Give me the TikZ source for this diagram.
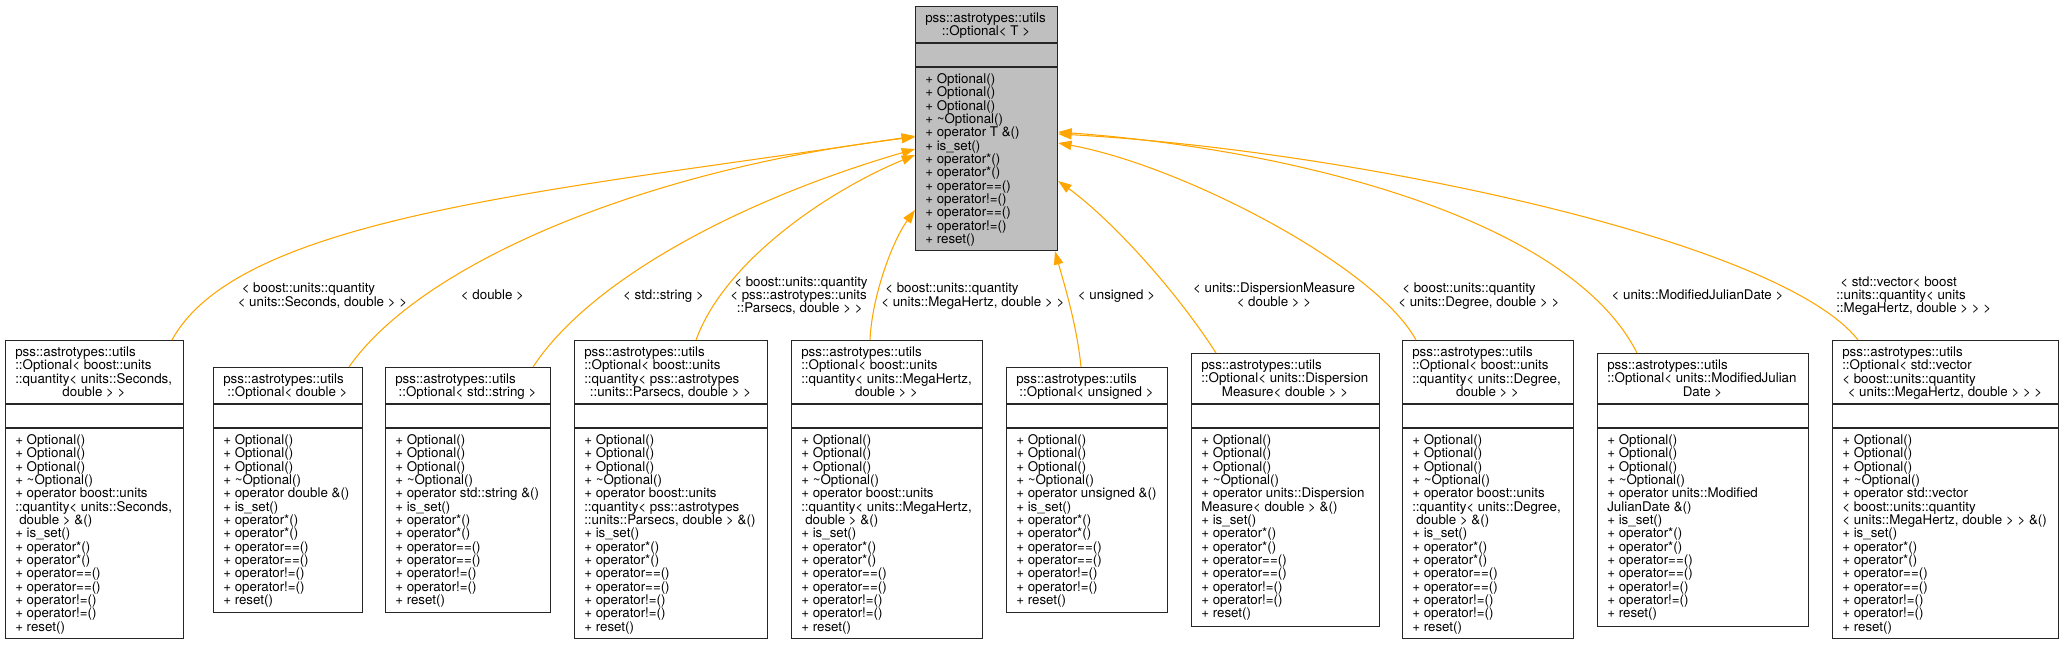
\documentclass[tikz,border=0pt]{standalone}
\usepackage{fontspec}
\setmainfont{TeX Gyre Heros}
\usetikzlibrary{arrows.meta}
\definecolor{inhcolor}{HTML}{FFA500}
\definecolor{basegray}{HTML}{BFBFBF}
\tikzset{every node/.style={inner sep=0pt,font={\fontsize{10}{10}\selectfont}},
  cls/.style={draw=black!85,line width=0.9pt,fill=white,anchor=north west},
  sep/.style={draw=black!85,line width=0.9pt},
  txt/.style={align=left,anchor=base west},
  ctr/.style={anchor=base},
  lbl/.style={align=left,anchor=base west},
  inh/.style={draw=inhcolor,line width=0.8pt,-{Triangle[length=10pt,width=7pt]}}}

\begin{document}
\begin{tikzpicture}[x=0.75pt,y=-0.75pt]
\useasboundingbox (0,0) rectangle (2063,645);

% base template (multi-line texts sit on their last baseline)
\node[cls,fill=basegray,minimum width=106.5pt,minimum height=183pt] (opt) at (915,6) {};
\draw[sep] (opt.west |- 0,43) -- (opt.east |- 0,43);
\draw[sep] (opt.west |- 0,67) -- (opt.east |- 0,67);
\node[txt] (opt-t) at (925,22.5) {pss::astrotypes::utils};
\node[ctr] (opt-n) at (986,35.8) {::Optional< T >};
\node[txt] (opt-m) at (925,243.5) {+ Optional()\\+ Optional()\\+ Optional()\\+ \textasciitilde Optional()\\+ operator T \&()\\+ is\_set()\\+ operator*()\\+ operator*()\\+ operator==()\\+ operator!=()\\+ operator==()\\+ operator!=()\\+ reset()};

% Seconds
\node[cls,minimum width=133.5pt,minimum height=223.5pt] (secs) at (5,340) {};
\draw[sep] (secs.west |- 0,404) -- (secs.east |- 0,404);
\draw[sep] (secs.west |- 0,428) -- (secs.east |- 0,428);
\node[txt] (secs-t) at (15,383.2) {pss::astrotypes::utils\\::Optional< boost::units\\::quantity< units::Seconds,};
\node[ctr] (secs-n) at (94,396.5) {double > >};
\node[txt] (secs-m) at (15,631.2) {+ Optional()\\+ Optional()\\+ Optional()\\+ \textasciitilde Optional()\\+ operator boost::units\\::quantity< units::Seconds,\\\hspace*{3pt}double > \&()\\+ is\_set()\\+ operator*()\\+ operator*()\\+ operator==()\\+ operator==()\\+ operator!=()\\+ operator!=()\\+ reset()};

% double
\node[cls,minimum width=111.75pt,minimum height=183.75pt] (dbl) at (213,367) {};
\draw[sep] (dbl.west |- 0,404) -- (dbl.east |- 0,404);
\draw[sep] (dbl.west |- 0,428) -- (dbl.east |- 0,428);
\node[txt] (dbl-t) at (223,383.5) {pss::astrotypes::utils};
\node[ctr] (dbl-n) at (287.5,396.8) {::Optional< double >};
\node[txt] (dbl-m) at (223,604.5) {+ Optional()\\+ Optional()\\+ Optional()\\+ \textasciitilde Optional()\\+ operator double \&()\\+ is\_set()\\+ operator*()\\+ operator*()\\+ operator==()\\+ operator==()\\+ operator!=()\\+ operator!=()\\+ reset()};

% std::string
\node[cls,minimum width=123.75pt,minimum height=183.75pt] (str) at (385,367) {};
\draw[sep] (str.west |- 0,404) -- (str.east |- 0,404);
\draw[sep] (str.west |- 0,428) -- (str.east |- 0,428);
\node[txt] (str-t) at (395,383.5) {pss::astrotypes::utils};
\node[ctr] (str-n) at (467.5,396.8) {::Optional< std::string >};
\node[txt] (str-m) at (395,604.5) {+ Optional()\\+ Optional()\\+ Optional()\\+ \textasciitilde Optional()\\+ operator std::string \&()\\+ is\_set()\\+ operator*()\\+ operator*()\\+ operator==()\\+ operator==()\\+ operator!=()\\+ operator!=()\\+ reset()};

% Parsecs
\node[cls,minimum width=144.75pt,minimum height=223.5pt] (pc) at (574,340) {};
\draw[sep] (pc.west |- 0,404) -- (pc.east |- 0,404);
\draw[sep] (pc.west |- 0,428) -- (pc.east |- 0,428);
\node[txt] (pc-t) at (584,383.2) {pss::astrotypes::utils\\::Optional< boost::units\\::quantity< pss::astrotypes};
\node[ctr] (pc-n) at (670.5,396.5) {::units::Parsecs, double > >};
\node[txt] (pc-m) at (584,631.2) {+ Optional()\\+ Optional()\\+ Optional()\\+ \textasciitilde Optional()\\+ operator boost::units\\::quantity< pss::astrotypes\\::units::Parsecs, double > \&()\\+ is\_set()\\+ operator*()\\+ operator*()\\+ operator==()\\+ operator==()\\+ operator!=()\\+ operator!=()\\+ reset()};

% MegaHertz
\node[cls,minimum width=143.25pt,minimum height=223.5pt] (mhz) at (791,340) {};
\draw[sep] (mhz.west |- 0,404) -- (mhz.east |- 0,404);
\draw[sep] (mhz.west |- 0,428) -- (mhz.east |- 0,428);
\node[txt] (mhz-t) at (801,383.2) {pss::astrotypes::utils\\::Optional< boost::units\\::quantity< units::MegaHertz,};
\node[ctr] (mhz-n) at (886.5,396.5) {double > >};
\node[txt] (mhz-m) at (801,631.2) {+ Optional()\\+ Optional()\\+ Optional()\\+ \textasciitilde Optional()\\+ operator boost::units\\::quantity< units::MegaHertz,\\\hspace*{3pt}double > \&()\\+ is\_set()\\+ operator*()\\+ operator*()\\+ operator==()\\+ operator==()\\+ operator!=()\\+ operator!=()\\+ reset()};

% unsigned
\node[cls,minimum width=120.75pt,minimum height=183.75pt] (uns) at (1006,367) {};
\draw[sep] (uns.west |- 0,404) -- (uns.east |- 0,404);
\draw[sep] (uns.west |- 0,428) -- (uns.east |- 0,428);
\node[txt] (uns-t) at (1016,383.5) {pss::astrotypes::utils};
\node[ctr] (uns-n) at (1086.5,396.8) {::Optional< unsigned >};
\node[txt] (uns-m) at (1016,604.5) {+ Optional()\\+ Optional()\\+ Optional()\\+ \textasciitilde Optional()\\+ operator unsigned \&()\\+ is\_set()\\+ operator*()\\+ operator*()\\+ operator==()\\+ operator==()\\+ operator!=()\\+ operator!=()\\+ reset()};

% DispersionMeasure
\node[cls,minimum width=141pt,minimum height=204.75pt] (dm) at (1191,353) {};
\draw[sep] (dm.west |- 0,404) -- (dm.east |- 0,404);
\draw[sep] (dm.west |- 0,428) -- (dm.east |- 0,428);
\node[txt] (dm-t) at (1201,382.8) {pss::astrotypes::utils\\::Optional< units::Dispersion};
\node[ctr] (dm-n) at (1285,396.2) {Measure< double > >};
\node[txt] (dm-m) at (1201,617.8) {+ Optional()\\+ Optional()\\+ Optional()\\+ \textasciitilde Optional()\\+ operator units::Dispersion\\Measure< double > \&()\\+ is\_set()\\+ operator*()\\+ operator*()\\+ operator==()\\+ operator==()\\+ operator!=()\\+ operator!=()\\+ reset()};

% Degree
\node[cls,minimum width=128.25pt,minimum height=223.5pt] (deg) at (1402,340) {};
\draw[sep] (deg.west |- 0,404) -- (deg.east |- 0,404);
\draw[sep] (deg.west |- 0,428) -- (deg.east |- 0,428);
\node[txt] (deg-t) at (1412,383.2) {pss::astrotypes::utils\\::Optional< boost::units\\::quantity< units::Degree,};
\node[ctr] (deg-n) at (1487.5,396.5) {double > >};
\node[txt] (deg-m) at (1412,631.2) {+ Optional()\\+ Optional()\\+ Optional()\\+ \textasciitilde Optional()\\+ operator boost::units\\::quantity< units::Degree,\\\hspace*{3pt}double > \&()\\+ is\_set()\\+ operator*()\\+ operator*()\\+ operator==()\\+ operator==()\\+ operator!=()\\+ operator!=()\\+ reset()};

% ModifiedJulianDate
\node[cls,minimum width=158.25pt,minimum height=204.75pt] (mjd) at (1597,353) {};
\draw[sep] (mjd.west |- 0,404) -- (mjd.east |- 0,404);
\draw[sep] (mjd.west |- 0,428) -- (mjd.east |- 0,428);
\node[txt] (mjd-t) at (1607,382.8) {pss::astrotypes::utils\\::Optional< units::ModifiedJulian};
\node[ctr] (mjd-n) at (1702.5,396.2) {Date >};
\node[txt] (mjd-m) at (1607,617.8) {+ Optional()\\+ Optional()\\+ Optional()\\+ \textasciitilde Optional()\\+ operator units::Modified\\JulianDate \&()\\+ is\_set()\\+ operator*()\\+ operator*()\\+ operator==()\\+ operator==()\\+ operator!=()\\+ operator!=()\\+ reset()};

% std::vector
\node[cls,minimum width=169.5pt,minimum height=223.5pt] (vec) at (1832,340) {};
\draw[sep] (vec.west |- 0,404) -- (vec.east |- 0,404);
\draw[sep] (vec.west |- 0,428) -- (vec.east |- 0,428);
\node[txt] (vec-t) at (1842,383.2) {pss::astrotypes::utils\\::Optional< std::vector\\< boost::units::quantity};
\node[ctr] (vec-n) at (1945,396.5) {< units::MegaHertz, double > > >};
\node[txt] (vec-m) at (1842,631.2) {+ Optional()\\+ Optional()\\+ Optional()\\+ \textasciitilde Optional()\\+ operator std::vector\\< boost::units::quantity\\< units::MegaHertz, double > > \&()\\+ is\_set()\\+ operator*()\\+ operator*()\\+ operator==()\\+ operator==()\\+ operator!=()\\+ operator!=()\\+ reset()};

% inheritance
\draw[inh] (secs.north -| 172,0) .. controls (240,215) and (560,190) .. (opt.west |- 0,136);
\draw[inh] (dbl.north -| 349,0) .. controls (420,265) and (640,170) .. (opt.west |- 0,137);
\draw[inh] (str.north -| 533,0) .. controls (590,280) and (740,200) .. (opt.west |- 0,149);
\draw[inh] (pc.north -| 696,0) .. controls (725,260) and (830,190) .. (opt.west |- 0,155);
\draw[inh] (mhz.north -| 870,0) .. controls (872,295) and (893,240) .. (opt.west |- 0,210);
\draw[inh] (uns.north -| 1081,0) .. controls (1077,325) and (1063,280) .. (opt.south -| 1055,0);
\draw[inh] (dm.north -| 1216,0) .. controls (1173,286) and (1108,217) .. (opt.east |- 0,181);
\draw[inh] (deg.north -| 1416,0) .. controls (1375,265) and (1180,165) .. (opt.east |- 0,143);
\draw[inh] (mjd.north -| 1637,0) .. controls (1570,220) and (1300,150) .. (opt.east |- 0,132);
\draw[inh] (vec.north -| 1858,0) .. controls (1780,240) and (1350,150) .. (opt.east |- 0,134);

% template arguments
\node[lbl] (l-secs) at (237.5,306) {\hspace*{3pt}< boost::units::quantity\\< units::Seconds, double > >};
\node[ctr] (l-dbl) at (492.5,299.5) {< double >};
\node[ctr] (l-str) at (663.5,299.5) {< std::string >};
\node[lbl] (l-pc) at (730,312.9) {\hspace*{3pt}< boost::units::quantity\\< pss::astrotypes::units\\\hspace*{5pt}::Parsecs, double > >};
\node[lbl] (l-mhz) at (881,306) {\hspace*{3pt}< boost::units::quantity\\< units::MegaHertz, double > >};
\node[ctr] (l-uns) at (1116.5,299.5) {< unsigned >};
\node[ctr,align=center] (l-dm) at (1274,306) {< units::DispersionMeasure\\< double > >};
\node[lbl] (l-deg) at (1398,306) {\hspace*{3pt}< boost::units::quantity\\< units::Degree, double > >};
\node[ctr] (l-mjd) at (1697.5,299.5) {< units::ModifiedJulianDate >};
\node[lbl] (l-vec) at (1836,312.9) {\hspace*{3pt}< std::vector< boost\\::units::quantity< units\\::MegaHertz, double > > >};
\end{tikzpicture}
\end{document}
